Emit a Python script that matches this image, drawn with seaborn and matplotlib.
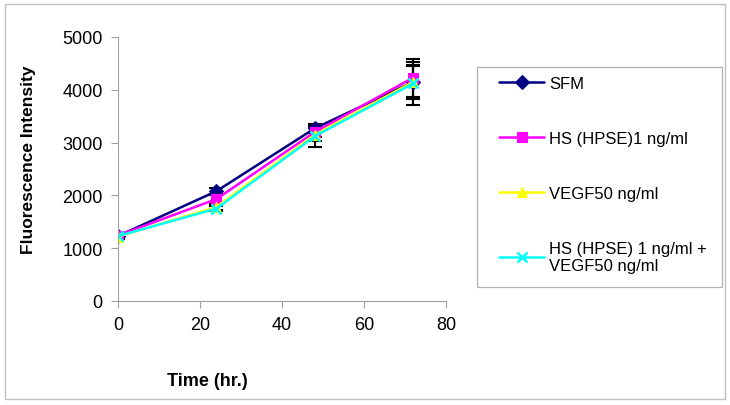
import matplotlib
matplotlib.use("Agg")
import matplotlib.pyplot as plt
from matplotlib.patches import Rectangle
import seaborn as sns
import pandas as pd

# data
hours     = [0, 24, 48, 72]
sfm       = [1230, 2080, 3270, 4150]
hs        = [1240, 1930, 3200, 4230]
vegf      = [1220, 1780, 3150, 4150]
hs_vegf   = [1230, 1750, 3120, 4120]
sfm_err     = [40, 60, 90, 320]
hs_err      = [40, 70, 100, 360]
vegf_err    = [40, 60, 120, 300]
hs_vegf_err = [40, 50, 210, 410]

series_names = ["SFM", "HS (HPSE)1 ng/ml", "VEGF50 ng/ml", "HS (HPSE) 1 ng/ml +\nVEGF50 ng/ml"]
series_vals  = [sfm, hs, vegf, hs_vegf]
series_errs  = [sfm_err, hs_err, vegf_err, hs_vegf_err]
colors  = ["#000080", "#ff00ff", "#ffff00", "#00ffff"]
markers = ["D", "s", "^", "X"]

rows = []
for name, vals, errs in zip(series_names, series_vals, series_errs):
    for h, v, e in zip(hours, vals, errs):
        rows.append({"time": h, "value": v, "err": e, "series": name})
df = pd.DataFrame(rows)

sns.set_theme(style="white")
plt.rcParams["font.family"] = ["Liberation Sans", "DejaVu Sans"]
plt.rcParams["text.color"] = "black"

fig = plt.figure(figsize=(7.3, 4.06), dpi=100)
ax = fig.add_axes([118 / 730, 1 - 302 / 406, 328 / 730, 264 / 406])

sns.lineplot(data=df, x="time", y="value", hue="series", style="series",
             hue_order=series_names, style_order=series_names,
             palette=colors, markers=markers, dashes=False,
             markersize=7, linewidth=1.8,
             ax=ax, zorder=2)

# black error bars
for name in series_names:
    sub = df[df["series"] == name]
    ax.errorbar(sub["time"], sub["value"], yerr=sub["err"], fmt="none",
                ecolor="black", elinewidth=1.5, capsize=5, capthick=1.5, zorder=1.5)

handles, labels = ax.get_legend_handles_labels()
ax.get_legend().remove()

# solid marker edges, thin cross for the last series
for ln in list(ax.lines[:len(series_names)]) + list(handles):
    ln.set_markeredgecolor(ln.get_color())
    ln.set_markeredgewidth(0.8)
    if ln.get_marker() == "X":
        ln.set_marker("x")
        ln.set_markeredgewidth(1.8)

ax.set_xlim(0, 80)
ax.set_ylim(0, 5000)
ax.set_xticks(range(0, 81, 20))
ax.set_yticks(range(0, 5001, 1000))
ax.tick_params(axis="both", labelsize=13, colors="#a0a0a0", labelcolor="black",
               length=5, width=0.8, direction="out", left=True, bottom=True, pad=6)
for side in ["top", "right"]:
    ax.spines[side].set_visible(False)
for side in ["left", "bottom"]:
    ax.spines[side].set_color("#a0a0a0")
    ax.spines[side].set_linewidth(0.8)
ax.set_xlabel("")
ax.set_ylabel("Fluorescence Intensity", fontsize=12.5, fontweight="bold", color="black")
ax.yaxis.set_label_coords(-0.25, 0.54)

fig.text(207 / 730, 1 - 382 / 406, "Time (hr.)", ha="center", va="center",
         fontsize=13, fontweight="bold", color="black")

# legend: entries without frame, box drawn separately
leg = fig.legend(handles, labels, loc="upper left",
                 bbox_to_anchor=(499 / 730, 1 - 77 / 406),
                 fontsize=12, frameon=False, handlelength=2.7, handletextpad=0.3,
                 labelspacing=2.4, borderpad=0, borderaxespad=0)
for t in leg.get_texts():
    t.set_color("black")
fig.patches.append(Rectangle((477 / 730, 1 - 288 / 406), 245 / 730, 220 / 406,
                             transform=fig.transFigure, fill=False,
                             edgecolor="#b0b0b0", linewidth=0.9))

# outer chart border
fig.patches.append(Rectangle((5 / 730, 6 / 406), 720 / 730, 395 / 406,
                             transform=fig.transFigure, fill=False,
                             edgecolor="#c0c0c0", linewidth=1.0))

fig.savefig("out.png", dpi=100)
